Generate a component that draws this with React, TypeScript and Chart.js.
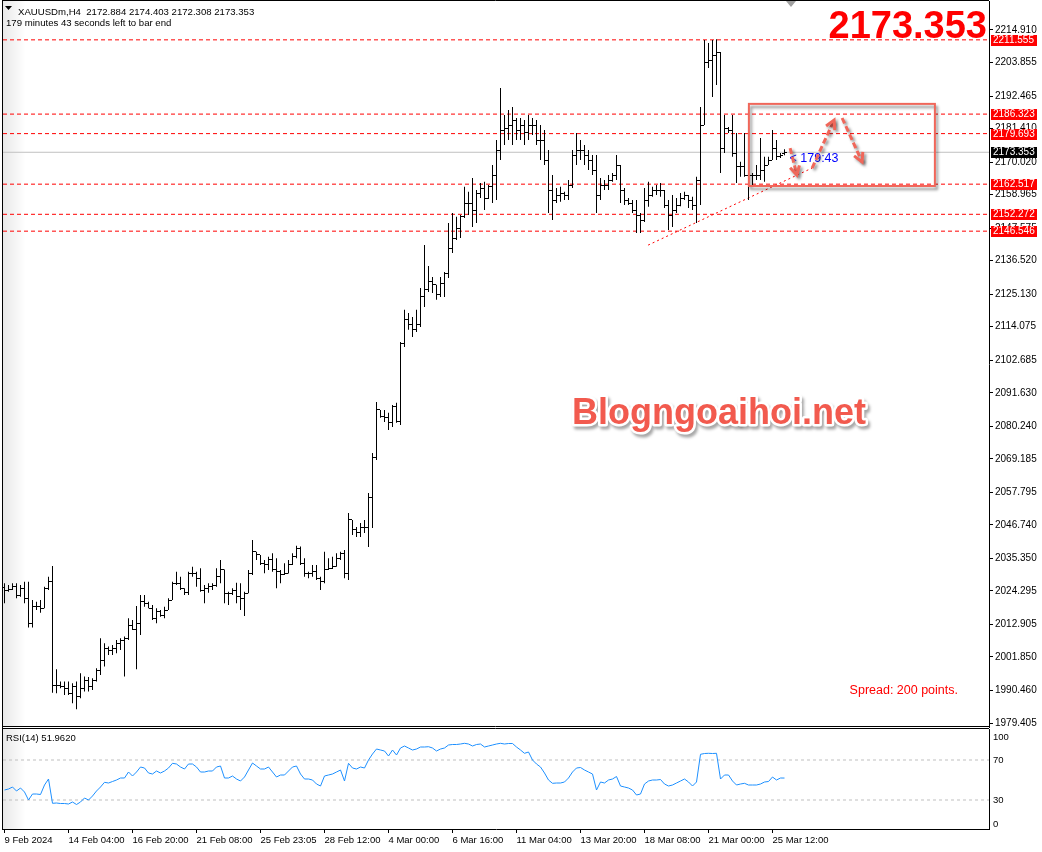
import React, { useEffect, useRef } from 'react';
import { Chart, registerables } from 'chart.js';

Chart.register(...registerables);

// ---------------- data ----------------
const symbolName = 'XAUUSDm,H4';

const opens = [
  2025.5, 2024.6, 2024.9, 2025.7, 2022.9, 2025.2, 2021.8, 2013.3, 2018.9, 2018.9,
  2018.4, 2025.2, 2027.4, 1992.3, 1992.0, 1991.8, 1991.2, 1989.5, 1991.8, 1988.4,
  1991.2, 1994.0, 1991.8, 1994.0, 1997.4, 2000.8, 2004.8, 2004.2, 2004.8, 2006.5,
  2007.6, 2008.2, 2012.7, 2011.3, 2013.3, 2020.6, 2020.1, 2018.4, 2015.0, 2017.2,
  2016.1, 2017.8, 2021.2, 2026.9, 2026.9, 2025.2, 2023.7, 2030.3, 2030.3, 2028.6,
  2024.6, 2025.2, 2025.7, 2026.3, 2029.1, 2031.4, 2023.5, 2023.5, 2024.6, 2022.3,
  2021.8, 2023.5, 2030.3, 2037.6, 2036.5, 2033.7, 2033.1, 2034.8, 2031.4, 2030.8,
  2029.7, 2030.3, 2033.1, 2035.9, 2038.8, 2033.7, 2030.3, 2030.3, 2030.8, 2028.6,
  2027.4, 2031.4, 2032.0, 2032.5, 2035.4, 2037.1, 2030.3, 2048.4, 2045.0, 2044.3,
  2046.0, 2045.7, 2055.9, 2069.5, 2085.8, 2083.7, 2083.1, 2081.4, 2086.8, 2081.7,
  2108.5, 2116.4, 2114.7, 2113.0, 2114.7, 2124.2, 2126.6, 2129.3, 2128.3, 2124.9,
  2128.9, 2132.3, 2140.8, 2144.2, 2147.6, 2151.4, 2156.1, 2156.1, 2153.7, 2159.5,
  2161.2, 2157.8, 2161.6, 2165.6, 2174.1, 2180.9, 2181.6, 2182.6, 2184.3, 2180.9,
  2182.6, 2180.2, 2182.6, 2182.6, 2177.5, 2177.5, 2170.7, 2160.5, 2157.1, 2158.8,
  2159.5, 2158.8, 2162.2, 2172.4, 2174.1, 2174.1, 2172.4, 2170.7, 2167.3, 2158.8,
  2162.2, 2162.2, 2163.9, 2165.6, 2169.0, 2160.5, 2157.1, 2156.1, 2153.7, 2152.0,
  2150.3, 2157.1, 2158.8, 2160.5, 2160.5, 2160.5, 2155.4, 2152.0, 2153.7, 2155.4,
  2157.8, 2158.8, 2157.1, 2155.4, 2163.9, 2182.6, 2203.7, 2204.7, 2206.4, 2207.4,
  2174.8, 2181.6, 2180.9, 2173.1, 2168.4, 2168.4, 2165.6, 2165.6, 2165.6, 2165.3,
  2167.3, 2169.0, 2170.7, 2174.8, 2171.8, 2172.884,
];

const highs = [
  2026.9, 2026.3, 2026.9, 2026.9, 2026.3, 2027.4, 2027.4, 2021.2, 2020.6, 2021.2,
  2025.7, 2029.1, 2032.8, 1997.7, 1993.5, 1993.5, 1993.5, 1992.9, 1993.5, 1996.3,
  1995.2, 1995.0, 1994.6, 1998.0, 2008.2, 2006.5, 2005.4, 2005.9, 2007.6, 2008.2,
  2008.8, 2015.0, 2014.4, 2019.2, 2022.9, 2022.9, 2020.6, 2019.5, 2018.4, 2017.8,
  2018.9, 2021.8, 2027.4, 2030.8, 2029.1, 2025.2, 2030.8, 2032.5, 2030.8, 2032.0,
  2026.3, 2026.9, 2026.9, 2032.0, 2034.8, 2031.6, 2024.0, 2025.2, 2027.1, 2026.9,
  2024.0, 2031.4, 2041.6, 2037.6, 2036.5, 2034.8, 2035.9, 2037.1, 2035.4, 2031.4,
  2033.7, 2034.8, 2037.1, 2039.6, 2039.4, 2035.4, 2030.8, 2033.1, 2033.1, 2029.1,
  2037.6, 2035.4, 2035.9, 2037.1, 2037.6, 2038.2, 2050.8, 2048.4, 2046.0, 2047.4,
  2048.4, 2057.6, 2071.2, 2088.5, 2085.8, 2085.8, 2084.8, 2087.5, 2088.2, 2108.9,
  2119.8, 2118.7, 2117.4, 2119.8, 2127.2, 2141.8, 2134.7, 2131.0, 2128.3, 2131.0,
  2132.7, 2149.3, 2152.7, 2151.4, 2152.0, 2161.6, 2159.9, 2164.6, 2160.5, 2162.9,
  2163.3, 2162.2, 2169.0, 2177.5, 2195.2, 2186.0, 2187.7, 2188.7, 2185.0, 2185.0,
  2184.3, 2186.0, 2185.0, 2184.3, 2182.6, 2180.9, 2174.1, 2165.6, 2161.2, 2161.6,
  2159.9, 2163.9, 2174.1, 2179.9, 2177.5, 2175.8, 2174.1, 2172.4, 2172.4, 2164.6,
  2163.9, 2165.6, 2166.3, 2172.4, 2169.0, 2161.2, 2157.8, 2157.1, 2157.1, 2152.7,
  2161.2, 2163.3, 2161.6, 2162.2, 2162.9, 2160.5, 2157.1, 2158.8, 2157.8, 2159.5,
  2159.9, 2158.8, 2158.2, 2165.0, 2188.7, 2211.5, 2210.5, 2211.5, 2211.8, 2207.4,
  2186.0, 2181.9, 2186.0, 2179.9, 2170.1, 2179.9, 2167.3, 2166.3, 2169.0, 2178.2,
  2171.8, 2171.8, 2180.9, 2177.5, 2173.1, 2174.403,
];

const lows = [
  2020.1, 2024.0, 2024.6, 2021.8, 2022.3, 2020.1, 2011.9, 2011.9, 2017.8, 2016.9,
  2018.4, 2024.6, 1989.7, 1989.5, 1991.2, 1988.9, 1988.9, 1986.1, 1984.1, 1987.8,
  1990.1, 1990.1, 1990.6, 1993.5, 1995.7, 1998.6, 2002.5, 2002.5, 2003.1, 2004.2,
  1995.2, 2007.6, 2011.0, 1997.7, 2009.3, 2018.9, 2018.4, 2014.4, 2013.3, 2015.5,
  2015.0, 2017.8, 2021.2, 2026.3, 2024.6, 2022.9, 2022.9, 2029.1, 2025.7, 2024.0,
  2020.1, 2023.7, 2024.6, 2025.7, 2026.9, 2020.1, 2019.5, 2022.9, 2020.1, 2017.8,
  2015.8, 2023.5, 2029.7, 2034.8, 2033.1, 2030.3, 2031.4, 2030.8, 2025.2, 2026.9,
  2029.7, 2030.2, 2033.1, 2035.4, 2033.1, 2029.1, 2028.6, 2029.1, 2028.0, 2024.6,
  2026.9, 2031.4, 2031.7, 2032.5, 2034.8, 2028.6, 2028.0, 2043.3, 2042.6, 2042.6,
  2044.0, 2039.2, 2045.7, 2068.8, 2083.1, 2081.7, 2079.0, 2080.0, 2081.4, 2080.7,
  2107.2, 2113.0, 2110.6, 2112.3, 2114.0, 2120.8, 2125.9, 2125.5, 2123.2, 2124.2,
  2124.2, 2130.6, 2139.1, 2143.5, 2144.2, 2151.0, 2152.0, 2148.0, 2149.3, 2157.8,
  2153.7, 2157.5, 2156.1, 2157.1, 2170.7, 2175.8, 2177.5, 2175.8, 2177.5, 2177.5,
  2175.8, 2177.5, 2179.2, 2175.8, 2170.7, 2169.0, 2152.7, 2150.3, 2156.1, 2156.5,
  2157.1, 2157.1, 2161.2, 2169.0, 2170.7, 2169.0, 2167.3, 2165.6, 2152.7, 2157.1,
  2160.5, 2160.5, 2163.3, 2163.9, 2156.1, 2155.4, 2155.4, 2152.7, 2145.9, 2145.9,
  2149.7, 2154.8, 2158.2, 2158.8, 2158.2, 2154.4, 2146.9, 2148.0, 2152.7, 2155.0,
  2157.1, 2154.4, 2153.7, 2149.3, 2155.4, 2182.6, 2202.0, 2192.1, 2196.2, 2166.3,
  2173.1, 2179.9, 2171.8, 2162.9, 2165.0, 2165.0, 2157.1, 2162.2, 2163.9, 2163.9,
  2163.3, 2169.0, 2170.7, 2170.7, 2171.4, 2172.308,
];

const closes = [
  2024.6, 2024.9, 2025.7, 2022.9, 2025.2, 2021.8, 2013.3, 2018.9, 2018.9, 2018.4,
  2025.2, 2027.4, 1992.3, 1992.0, 1991.8, 1991.2, 1989.5, 1991.8, 1988.4, 1991.2,
  1994.0, 1991.8, 1994.0, 1997.4, 2000.8, 2004.8, 2004.2, 2004.8, 2006.5, 2007.6,
  2008.2, 2012.7, 2011.3, 2013.3, 2020.6, 2020.1, 2018.4, 2015.0, 2017.2, 2016.1,
  2017.8, 2021.2, 2026.9, 2026.9, 2025.2, 2023.7, 2030.3, 2030.3, 2028.6, 2024.6,
  2025.2, 2025.7, 2026.3, 2029.1, 2031.4, 2023.5, 2023.5, 2024.6, 2022.3, 2021.8,
  2023.5, 2030.3, 2037.6, 2036.5, 2033.7, 2033.1, 2034.8, 2031.4, 2030.8, 2029.7,
  2030.3, 2033.1, 2035.9, 2038.8, 2033.7, 2030.3, 2030.3, 2030.8, 2028.6, 2027.4,
  2031.4, 2032.0, 2032.5, 2035.4, 2037.1, 2030.3, 2048.4, 2045.0, 2044.3, 2046.0,
  2045.7, 2055.9, 2069.5, 2085.8, 2083.7, 2083.1, 2081.4, 2086.8, 2081.7, 2108.5,
  2116.4, 2114.7, 2113.0, 2114.7, 2124.2, 2126.6, 2129.3, 2128.3, 2124.9, 2128.9,
  2132.3, 2140.8, 2144.2, 2147.6, 2151.4, 2156.1, 2156.1, 2153.7, 2159.5, 2161.2,
  2157.8, 2161.6, 2165.6, 2174.1, 2180.9, 2181.6, 2182.6, 2184.3, 2180.9, 2182.6,
  2180.2, 2182.6, 2182.6, 2177.5, 2177.5, 2170.7, 2160.5, 2157.1, 2158.8, 2159.5,
  2158.8, 2162.2, 2172.4, 2174.1, 2174.1, 2172.4, 2170.7, 2167.3, 2158.8, 2162.2,
  2162.2, 2163.9, 2165.6, 2169.0, 2160.5, 2157.1, 2156.1, 2153.7, 2152.0, 2150.3,
  2157.1, 2158.8, 2160.5, 2160.5, 2160.5, 2155.4, 2152.0, 2153.7, 2155.4, 2157.8,
  2158.8, 2157.1, 2155.4, 2163.9, 2182.6, 2203.7, 2204.7, 2206.4, 2207.4, 2174.8,
  2181.6, 2180.9, 2173.1, 2168.4, 2168.4, 2165.6, 2165.6, 2165.6, 2165.3, 2167.3,
  2169.0, 2170.7, 2174.8, 2171.8, 2172.4, 2173.353,
];

const rsi14 = [
  40, 41, 43, 39, 42, 38, 30, 36, 36, 35.5,
  45, 51, 26.7, 27, 26.5, 26.5, 26, 28, 25.5, 28,
  32, 30, 34, 39, 43, 47.7, 47, 48.5, 50, 52,
  52, 58, 54, 58, 63, 62, 57, 56, 59, 57,
  59, 62, 66.7, 66, 63, 61, 66, 66, 63, 58,
  58, 59, 59, 63, 64, 52, 52, 54, 51, 49,
  53, 60, 67, 64, 61, 61, 63, 58, 53, 55,
  55, 59, 63, 64, 56, 51, 51, 50, 46, 44,
  54, 55, 56, 58, 60, 49, 66.7, 62, 61, 63,
  62, 70, 76, 81, 80, 79, 74, 80, 75, 82,
  84, 82, 80, 81, 83, 83, 83.3, 82, 79, 81,
  82, 85, 85.5, 85.5, 86, 86.7, 86, 84, 85.5, 86,
  83, 84, 85, 86, 86.7, 86, 86.5, 86.5, 83, 80,
  76.7, 78, 70, 66, 63, 57, 50, 46.7, 47, 47,
  48, 52, 58, 62, 62.5, 60, 58, 56, 40, 48,
  47, 50, 51, 53.5, 44, 43, 42, 40, 35, 36,
  46, 49, 50, 50, 50.5, 46, 44, 45, 47, 49,
  51, 48, 44, 48, 75.7, 76.5, 76.7, 76.5, 76.7, 51,
  55, 55, 49, 45, 46, 46.7, 45, 45, 45, 46,
  48, 48.5, 53, 50, 52, 51.962,
];

const timeTickBars = [0, 16, 32, 48, 64, 80, 96, 112, 128, 144, 160, 176, 192];
const timeTickLabels = [
  '9 Feb 2024', '14 Feb 04:00', '16 Feb 20:00', '21 Feb 08:00', '25 Feb 23:05',
  '28 Feb 12:00', '4 Mar 00:00', '6 Mar 16:00', '11 Mar 04:00', '13 Mar 20:00',
  '18 Mar 08:00', '21 Mar 00:00', '25 Mar 12:00',
];
const priceTicks = [
  1979.405, 1990.46, 2001.85, 2012.905, 2024.295, 2035.35, 2046.74, 2057.795,
  2069.185, 2080.24, 2091.63, 2102.685, 2114.075, 2125.13, 2136.52, 2147.575,
  2158.965, 2170.02, 2181.41, 2192.465, 2203.855, 2214.91,
];
const levelPrices = [2211.555, 2186.323, 2179.693, 2162.517, 2152.272, 2146.546];
const rsiLevels = [70, 30];
const rsiAxisValues = [100, 70, 30, 0];
const trendBars = [160.9, 201.9];
const trendPrices = [2141.8, 2168.0];
const zoneBars = [186.1, 232.6];
const zonePrices = [2161.9, 2189.8];
const arrowBars = [[196.4, 198.1], [201.9, 207.4], [209.4, 214.4]];
const arrowPrices = [[2174.8, 2165.6], [2168.0, 2184.3], [2185.0, 2170.1]];
const spreadPoints = 200;
const barTimeLeft = { minutes: 179, seconds: 43 };
const rsiPeriod = 14;
const watermark = 'Blogngoaihoi.net';

// ---------------- layout / style ----------------
const W = 1042;
const MAIN_H = 728;
const RSI_H = 124;
const X_MIN = -0.375;
const X_MAX = 246.125;
const P_MIN = 1978.046;
const P_MAX = 2224.76;
const R_MIN = 1;
const R_MAX = 101;
const FONT = '"Liberation Sans", Arial, sans-serif';
const AXIS_W = 53;
const AXIS_FONT = 10;

function makeTick(side: 'open' | 'close') {
  const c = document.createElement('canvas');
  c.width = 5;
  c.height = 1;
  const g = c.getContext('2d')!;
  g.fillStyle = '#000';
  if (side === 'open') g.fillRect(0, 0, 2, 1);
  else g.fillRect(3, 0, 2, 1);
  return c;
}

function leftShade(chart: any) {
  const { ctx, chartArea: a } = chart;
  ctx.save();
  const g = ctx.createLinearGradient(a.left, 0, a.left + 22, 0);
  g.addColorStop(0, 'rgba(0,0,0,0.09)');
  g.addColorStop(1, 'rgba(0,0,0,0)');
  ctx.fillStyle = g;
  ctx.fillRect(a.left, a.top, 22, a.bottom - a.top);
  ctx.restore();
}

function drawArrow(ctx: CanvasRenderingContext2D, x1: number, y1: number, x2: number, y2: number) {
  ctx.save();
  ctx.strokeStyle = '#f0675a';
  ctx.lineWidth = 3;
  ctx.lineCap = 'butt';
  ctx.shadowColor = 'rgba(0,0,0,0.45)';
  ctx.shadowBlur = 3;
  ctx.shadowOffsetX = 2;
  ctx.shadowOffsetY = 2;
  ctx.setLineDash([6, 3]);
  ctx.beginPath();
  ctx.moveTo(x1, y1);
  ctx.lineTo(x2, y2);
  ctx.stroke();
  ctx.setLineDash([]);
  const ang = Math.atan2(y2 - y1, x2 - x1);
  const L = 10;
  ctx.beginPath();
  ctx.moveTo(x2 - L * Math.cos(ang - 0.5), y2 - L * Math.sin(ang - 0.5));
  ctx.lineTo(x2, y2);
  ctx.lineTo(x2 - L * Math.cos(ang + 0.5), y2 - L * Math.sin(ang + 0.5));
  ctx.stroke();
  ctx.restore();
}

const mainDecor = {
  id: 'mainDecor',
  beforeDatasetsDraw(chart: any) {
    leftShade(chart);
    chart.ctx.imageSmoothingEnabled = false;
  },
  afterDatasetsDraw(chart: any) {
    const { ctx, chartArea: a, scales } = chart;
    const xs = scales.x;
    const ys = scales.y;
    ctx.imageSmoothingEnabled = true;
    const last = closes.length - 1;

    // zone rectangle
    const x0 = xs.getPixelForValue(zoneBars[0]);
    const x1 = xs.getPixelForValue(zoneBars[1]);
    const yT = ys.getPixelForValue(zonePrices[1]);
    const yB = ys.getPixelForValue(zonePrices[0]);
    ctx.save();
    ctx.shadowColor = 'rgba(0,0,0,0.45)';
    ctx.shadowBlur = 3;
    ctx.shadowOffsetX = 2;
    ctx.shadowOffsetY = 3;
    ctx.strokeStyle = '#f0675a';
    ctx.lineWidth = 2;
    ctx.strokeRect(x0, yT, x1 - x0, yB - yT);
    ctx.restore();

    // countdown label
    ctx.save();
    ctx.font = `12.5px ${FONT}`;
    ctx.fillStyle = '#0000ff';
    ctx.textBaseline = 'top';
    ctx.textAlign = 'left';
    ctx.fillText(
      `< ${barTimeLeft.minutes}:${String(barTimeLeft.seconds).padStart(2, '0')}`,
      xs.getPixelForValue(last) + 5,
      ys.getPixelForValue(closes[last]) + 0.5
    );
    ctx.restore();

    // arrows
    arrowBars.forEach((b, k) => {
      drawArrow(
        ctx,
        xs.getPixelForValue(b[0]), ys.getPixelForValue(arrowPrices[k][0]),
        xs.getPixelForValue(b[1]), ys.getPixelForValue(arrowPrices[k][1])
      );
    });

    // watermark
    ctx.save();
    ctx.font = `bold 36px ${FONT}`;
    ctx.textBaseline = 'alphabetic';
    ctx.textAlign = 'left';
    ctx.lineJoin = 'round';
    ctx.shadowColor = 'rgba(0,0,0,0.35)';
    ctx.shadowBlur = 3;
    ctx.shadowOffsetX = 2;
    ctx.shadowOffsetY = 3;
    ctx.strokeStyle = '#ffffff';
    ctx.lineWidth = 5;
    ctx.strokeText(watermark, 572, 424);
    ctx.shadowColor = 'rgba(0,0,0,0)';
    ctx.fillStyle = '#f25a4e';
    ctx.fillText(watermark, 572, 424);
    ctx.restore();

    // spread
    ctx.save();
    ctx.font = `12.5px ${FONT}`;
    ctx.fillStyle = '#ff0000';
    ctx.textAlign = 'right';
    ctx.textBaseline = 'alphabetic';
    ctx.fillText(`Spread: ${spreadPoints} points.`, a.right - 31, a.bottom - 33);
    ctx.restore();
  },
  afterDraw(chart: any) {
    const { ctx, chartArea: a, scales } = chart;
    const ys = scales.y;
    const last = closes.length - 1;

    // frame
    ctx.save();
    ctx.strokeStyle = '#000';
    ctx.lineWidth = 1;
    ctx.beginPath();
    ctx.moveTo(a.left - 0.5, 0);
    ctx.lineTo(a.left - 0.5, a.bottom + 1);
    ctx.moveTo(a.left - 1, 0.5);
    ctx.lineTo(a.right, 0.5);
    ctx.moveTo(a.left - 1, a.bottom - 0.5);
    ctx.lineTo(a.right, a.bottom - 0.5);
    ctx.stroke();
    // chart shift marker
    ctx.fillStyle = '#a0a0a0';
    ctx.beginPath();
    ctx.moveTo(786, 1);
    ctx.lineTo(796, 1);
    ctx.lineTo(791, 7);
    ctx.closePath();
    ctx.fill();
    ctx.restore();

    // price labels on axis
    ctx.save();
    ctx.font = `${AXIS_FONT}px ${FONT}`;
    ctx.textBaseline = 'middle';
    ctx.textAlign = 'left';
    const box = (p: number, fill: string) => {
      const py = Math.round(ys.getPixelForValue(p));
      ctx.fillStyle = fill;
      ctx.fillRect(a.right + 2, py - 5, 46, 11);
      ctx.fillStyle = '#fff';
      ctx.fillText(p.toFixed(3), a.right + 4, py + 0.5);
    };
    levelPrices.forEach((p) => box(p, '#ff0000'));
    box(closes[last], '#000000');
    ctx.restore();

    // header
    ctx.save();
    ctx.fillStyle = '#000';
    ctx.beginPath();
    ctx.moveTo(5, 6);
    ctx.lineTo(12, 6);
    ctx.lineTo(8.5, 10);
    ctx.closePath();
    ctx.fill();
    ctx.font = `9.6px ${FONT}`;
    ctx.textBaseline = 'alphabetic';
    ctx.textAlign = 'left';
    ctx.fillText(
      `${symbolName}  ${opens[last].toFixed(3)} ${highs[last].toFixed(3)} ${lows[last].toFixed(3)} ${closes[last].toFixed(3)}`,
      18, 15
    );
    ctx.fillText(
      `${barTimeLeft.minutes} minutes ${barTimeLeft.seconds} seconds left to bar end`,
      6, 26
    );
    // big price
    ctx.font = `bold 38px ${FONT}`;
    ctx.fillStyle = '#ff0000';
    ctx.textAlign = 'right';
    ctx.fillText(closes[last].toFixed(3), a.right - 2, 38);
    ctx.restore();
  },
};

const rsiDecor = {
  id: 'rsiDecor',
  beforeDatasetsDraw(chart: any) {
    leftShade(chart);
  },
  afterDraw(chart: any) {
    const { ctx, chartArea: a, scales } = chart;
    const ys = scales.y;
    ctx.save();
    ctx.strokeStyle = '#000';
    ctx.lineWidth = 1;
    ctx.beginPath();
    ctx.moveTo(a.left - 0.5, 0);
    ctx.lineTo(a.left - 0.5, a.bottom + 1);
    ctx.moveTo(a.left - 1, a.top - 0.5);
    ctx.lineTo(a.right, a.top - 0.5);
    ctx.stroke();

    ctx.font = `9.5px ${FONT}`;
    ctx.fillStyle = '#000';
    ctx.textAlign = 'left';
    ctx.textBaseline = 'middle';
    rsiAxisValues.forEach((v) => {
      let py = ys.getPixelForValue(v);
      if (v === 100) py += 7;
      if (v === 0) py -= 6;
      ctx.fillText(String(v), a.right + 4, py);
    });
    ctx.textBaseline = 'alphabetic';
    ctx.fillText(`RSI(${rsiPeriod}) ${rsi14[rsi14.length - 1].toFixed(4)}`, 6, a.top + 12);
    ctx.restore();
  },
};

export default function App() {
  const mainRef = useRef<HTMLCanvasElement>(null);
  const rsiRef = useRef<HTMLCanvasElement>(null);

  useEffect(() => {
    const openTick = makeTick('open');
    const closeTick = makeTick('close');
    const last = closes.length - 1;

    const main = new Chart(mainRef.current!, {
      type: 'bar',
      data: {
        datasets: [
          ...levelPrices.map((p) => ({
            type: 'line' as const,
            data: [{ x: X_MIN, y: p }, { x: X_MAX, y: p }],
            borderColor: '#ff0000',
            borderWidth: 1,
            borderDash: [4, 3],
            pointRadius: 0,
            pointHoverRadius: 0,
            order: 10,
          })),
          {
            type: 'line' as const,
            data: [{ x: X_MIN, y: closes[last] }, { x: X_MAX, y: closes[last] }],
            borderColor: '#c0c0c0',
            borderWidth: 1,
            pointRadius: 0,
            pointHoverRadius: 0,
            order: 11,
          },
          {
            type: 'line' as const,
            data: [{ x: trendBars[0], y: trendPrices[0] }, { x: trendBars[1], y: trendPrices[1] }],
            borderColor: '#ff0000',
            borderWidth: 1,
            borderDash: [2, 3],
            pointRadius: 0,
            pointHoverRadius: 0,
            order: 9,
          },
          {
            type: 'bar' as const,
            data: highs.map((h, i) => ({ x: i, y: [lows[i], h] })),
            backgroundColor: '#000',
            borderWidth: 0,
            barThickness: 1,
            grouped: false,
            minBarLength: 1,
            inflateAmount: 0,
            order: 1,
          },
          {
            type: 'scatter' as const,
            data: opens.map((o, i) => ({ x: i, y: o })),
            pointStyle: openTick,
            pointRadius: 2,
            pointHoverRadius: 0,
            pointBorderWidth: 0,
            order: 0,
          },
          {
            type: 'scatter' as const,
            data: closes.map((c, i) => ({ x: i, y: c })),
            pointStyle: closeTick,
            pointRadius: 2,
            pointHoverRadius: 0,
            pointBorderWidth: 0,
            order: 0,
          },
        ] as any,
      },
      options: {
        responsive: false,
        animation: false,
        events: [],
        layout: { autoPadding: false, padding: { left: 3, top: 1, right: 0, bottom: 1 } },
        plugins: { legend: { display: false }, tooltip: { enabled: false } },
        scales: {
          x: { type: 'linear', display: false, min: X_MIN, max: X_MAX, offset: false },
          y: {
            type: 'linear',
            position: 'right',
            min: P_MIN,
            max: P_MAX,
            beginAtZero: false,
            afterBuildTicks: (s: any) => {
              s.ticks = priceTicks.map((v) => ({ value: v }));
            },
            afterFit: (s: any) => {
              s.width = AXIS_W;
              s.paddingTop = 0;
              s.paddingBottom = 0;
            },
            ticks: {
              autoSkip: false,
              padding: 2,
              color: '#000',
              font: { family: FONT, size: AXIS_FONT },
              callback: (v: any) => Number(v).toFixed(3),
            },
            grid: { display: true, drawOnChartArea: false, drawTicks: true, tickLength: 4, color: '#000' },
            border: { display: true, color: '#000' },
          },
        },
      } as any,
      plugins: [mainDecor],
    });

    const rsi = new Chart(rsiRef.current!, {
      type: 'line',
      data: {
        datasets: [
          ...rsiLevels.map((l) => ({
            data: [{ x: X_MIN, y: l }, { x: X_MAX, y: l }],
            borderColor: '#c0c0c0',
            borderWidth: 1,
            borderDash: [3, 3],
            pointRadius: 0,
            pointHoverRadius: 0,
            order: 5,
          })),
          {
            data: rsi14.map((v, i) => ({ x: i, y: v })),
            borderColor: '#1e90ff',
            borderWidth: 1,
            pointRadius: 0,
            pointHoverRadius: 0,
            tension: 0,
            order: 0,
          },
        ],
      },
      options: {
        responsive: false,
        animation: false,
        events: [],
        layout: { autoPadding: false, padding: { left: 3, top: 1, right: 0, bottom: 0 } },
        plugins: { legend: { display: false }, tooltip: { enabled: false } },
        scales: {
          x: {
            type: 'linear',
            position: 'bottom',
            min: X_MIN,
            max: X_MAX,
            offset: false,
            afterBuildTicks: (s: any) => {
              s.ticks = timeTickBars.map((v) => ({ value: v }));
            },
            afterFit: (s: any) => {
              s.height = 23;
              s.paddingLeft = 0;
              s.paddingRight = 0;
            },
            ticks: {
              autoSkip: false,
              maxRotation: 0,
              minRotation: 0,
              align: 'start',
              padding: 2,
              color: '#000',
              font: { family: FONT, size: 9.5 },
              callback: (_v: any, idx: number) => timeTickLabels[idx],
            },
            grid: { display: true, drawOnChartArea: false, drawTicks: true, tickLength: 4, color: '#000' },
            border: { display: true, color: '#000' },
          },
          y: {
            type: 'linear',
            position: 'right',
            min: R_MIN,
            max: R_MAX,
            afterFit: (s: any) => {
              s.width = AXIS_W;
              s.paddingTop = 0;
              s.paddingBottom = 0;
            },
            ticks: { display: false },
            grid: { display: false },
            border: { display: true, color: '#000' },
          },
        },
      } as any,
      plugins: [rsiDecor],
    });

    return () => {
      main.destroy();
      rsi.destroy();
    };
  }, []);

  return (
    <div style={{ position: 'absolute', left: 0, top: 0, width: W, height: MAIN_H + RSI_H, background: '#fff' }}>
      <canvas
        ref={mainRef}
        width={W}
        height={MAIN_H}
        style={{ position: 'absolute', left: 0, top: 0, display: 'block', width: W, height: MAIN_H }}
      />
      <canvas
        ref={rsiRef}
        width={W}
        height={RSI_H}
        style={{ position: 'absolute', left: 0, top: MAIN_H, display: 'block', width: W, height: RSI_H }}
      />
    </div>
  );
}
